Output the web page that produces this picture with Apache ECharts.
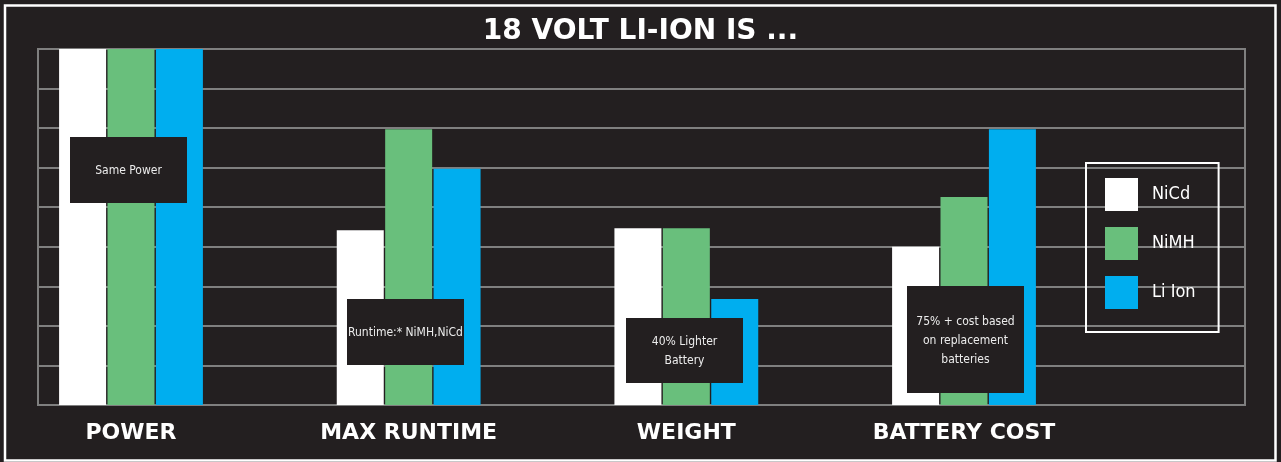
<!DOCTYPE html>
<html>
<head>
<meta charset="utf-8">
<script src="https://cdn.jsdelivr.net/npm/echarts@6/dist/echarts.min.js"></script>
<style>
  html, body { margin: 0; padding: 0; background: #231f20; }
  #chart { width: 1281px; height: 462px; }
</style>
</head>
<body>
<div id="chart"></div>
<script>
// chart data
const categories = ['POWER', 'MAX RUNTIME', 'WEIGHT', 'BATTERY COST'];
const seriesNames = ['NiCd', 'NiMH', 'Li Ion'];
const nicd = [9, 4.42, 4.47, 4.0];
const nimh = [9, 6.97, 4.47, 5.26];
const liIon = [9, 5.97, 2.68, 6.97];
const colors = ['#ffffff', '#69bf7c', '#00aeef'];

const notes = [
  { text: 'Same Power', x: 70, y: 137, w: 117, h: 66 },
  { text: 'Runtime:* NiMH,NiCd', x: 347, y: 299, w: 117, h: 66 },
  { text: '40% Lighter\nBattery', x: 626, y: 318, w: 117, h: 65 },
  { text: '75% + cost based\non replacement\nbatteries', x: 907, y: 286, w: 117, h: 107 }
];

const narrow = '"DejaVu Sans Condensed", "Liberation Sans Narrow", Roboto, sans-serif';
const gridGray = '#7f7f7f';
const chart = echarts.init(document.getElementById('chart'));

const noteGraphics = [];
notes.forEach(n => {
  noteGraphics.push({
    type: 'rect', z: 100,
    shape: { x: n.x, y: n.y, width: n.w, height: n.h },
    style: { fill: '#231f20' }
  });
  noteGraphics.push({
    type: 'text', z: 101,
    x: n.x + n.w / 2,
    y: n.y + n.h / 2 + 1,
    style: {
      text: n.text,
      fill: '#ececec',
      font: '12px ' + narrow,
      align: 'center',
      verticalAlign: 'middle',
      lineHeight: 19
    }
  });
});

const data = [nicd, nimh, liIon];

chart.setOption({
  backgroundColor: '#231f20',
  animation: false,
  title: {
    text: '18 VOLT LI-ION IS ...',
    left: 'center',
    top: 13,
    textStyle: { color: '#ffffff', fontFamily: 'DejaVu Sans', fontWeight: 'bold', fontSize: 28 }
  },
  legend: {
    orient: 'vertical',
    left: 1086,
    top: 163,
    padding: [15, 23, 23, 19],
    borderColor: '#ffffff',
    borderWidth: 2,
    itemWidth: 33,
    itemHeight: 33,
    itemGap: 16,
    itemStyle: { borderWidth: 0 },
    icon: 'rect',
    data: seriesNames,
    textStyle: { color: '#ffffff', fontFamily: narrow, fontSize: 18, padding: [0, 0, 0, 9] }
  },
  grid: [
    { left: 38, top: 49, width: 1207, height: 356, show: true, borderColor: gridGray, borderWidth: 2, backgroundColor: 'transparent' },
    { left: 131, top: 49, width: 833, height: 356 }
  ],
  xAxis: [
    { gridIndex: 0, type: 'value', show: false },
    {
      gridIndex: 1,
      type: 'category',
      boundaryGap: false,
      data: categories,
      axisLine: { show: false },
      axisTick: { show: false },
      splitLine: { show: false },
      axisLabel: { color: '#ffffff', fontFamily: 'DejaVu Sans', fontWeight: 'bold', fontSize: 22, margin: 17 }
    }
  ],
  yAxis: [
    {
      gridIndex: 0, type: 'value', min: 0, max: 9, interval: 1,
      axisLine: { show: false }, axisTick: { show: false }, axisLabel: { show: false },
      splitLine: { show: true, lineStyle: { color: gridGray, width: 2 } }
    },
    { gridIndex: 1, type: 'value', min: 0, max: 9, show: false }
  ],
  graphic: [
    {
      type: 'rect', z: 100,
      shape: { x: 5, y: 5.5, width: 1270.5, height: 455 },
      style: { fill: 'none', stroke: '#ffffff', lineWidth: 2.5 }
    }
  ].concat(noteGraphics),
  series: seriesNames.map((name, i) => ({
    name: name,
    type: 'bar',
    xAxisIndex: 1,
    yAxisIndex: 1,
    barWidth: 47,
    barGap: '3%',
    itemStyle: { color: colors[i] },
    data: data[i]
  }))
});
</script>
</body>
</html>
